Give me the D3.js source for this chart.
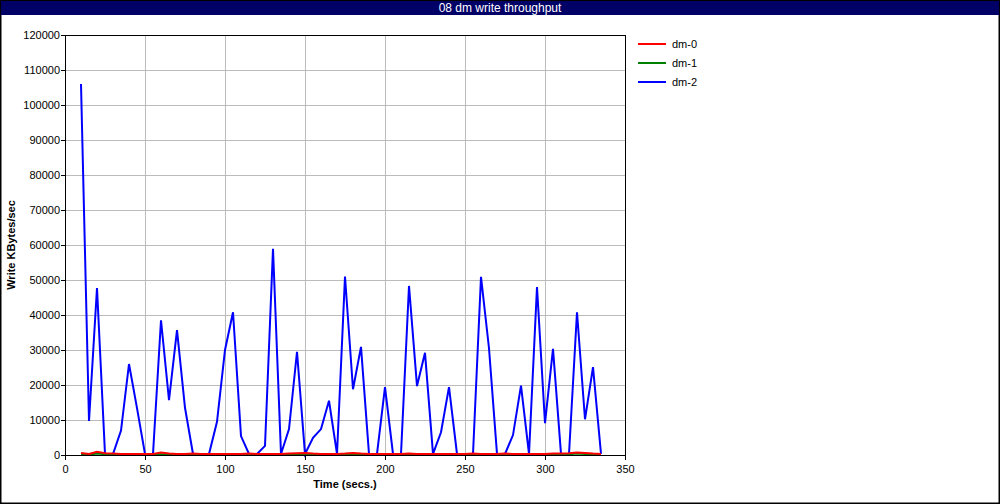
<!DOCTYPE html>
<html><head><meta charset="utf-8">
<script src="https://cdn.jsdelivr.net/npm/d3@7"></script>
<style>
html,body{margin:0;padding:0;background:#fff;}
svg{display:block;font-family:"Liberation Sans",Arial,sans-serif;}
</style></head>
<body>
<svg id="chart" width="1000" height="504"></svg>
<script>
const title = "08 dm write throughput";
const seriesNames = ["dm-0", "dm-1", "dm-2"];
const seriesColors = ["#ff0000", "#008000", "#0000ff"];
const times = [10,15,20,25,30,35,40,45,50,55,60,65,70,75,80,85,90,95,100,105,110,115,120,125,130,135,140,145,150,155,160,165,170,175,180,185,190,195,200,205,210,215,220,225,230,235,240,245,250,255,260,265,270,275,280,285,290,295,300,305,310,315,320,325,330,335];
const dm2 = [106000,9700,47700,300,300,7000,26000,13400,300,300,38500,15700,35700,13500,300,300,300,9500,30000,40800,5400,300,300,2600,58900,300,7400,29500,300,4900,7400,15500,300,51000,18800,30900,300,300,19400,300,300,48300,19700,29200,300,6500,19400,300,300,300,50900,30500,300,300,5700,19800,300,48000,9100,30300,300,300,40800,10200,25100,300];
const dm1 = [100,50,400,200,100,50,50,50,50,100,200,100,50,50,50,50,50,50,50,50,50,100,50,50,50,50,50,100,200,100,50,50,50,50,150,100,50,50,50,50,50,100,50,50,50,50,50,50,100,100,50,50,50,50,50,50,50,50,50,50,100,200,400,300,200,100];
const dm0 = [600,300,900,500,400,300,300,300,300,300,700,400,300,300,400,300,300,300,300,300,300,400,300,300,300,300,400,500,600,400,300,300,300,400,600,400,300,300,300,300,300,400,300,300,300,300,300,300,300,400,300,300,300,400,300,300,300,300,300,400,400,500,700,600,400,300];
const seriesValues = [dm0, dm1, dm2];
const xTicks = [0,50,100,150,200,250,300,350];
const yTicks = d3.range(0, 120001, 10000);

const svg = d3.select("#chart");
const W = 1000, H = 504;
const m = {left:65, right:375, top:35, bottom:49};
const x = d3.scaleLinear().domain([0,350]).range([m.left, W - m.right]);
const y = d3.scaleLinear().domain([0,120000]).range([H - m.bottom, m.top]);

// background + outer border
svg.append("rect").attr("x",0.5).attr("y",0.5).attr("width",W-1).attr("height",H-1)
  .attr("fill","#fff").attr("stroke","#000").attr("stroke-width",2);
// title bar
svg.append("rect").attr("x",1).attr("y",1).attr("width",W-2).attr("height",14).attr("fill","#000066");
svg.append("text").attr("x",W/2).attr("y",12).attr("text-anchor","middle")
  .attr("fill","#fff").attr("font-size",12).text(title);

// grid
const g = svg.append("g");
g.selectAll(".vg").data(xTicks.slice(1,-1)).enter().append("line")
  .attr("x1",d=>x(d)).attr("x2",d=>x(d)).attr("y1",y(0)).attr("y2",y(120000))
  .attr("stroke","#bbbbbb").attr("stroke-width",1).attr("shape-rendering","crispEdges");
g.selectAll(".hg").data(yTicks.slice(1,-1)).enter().append("line")
  .attr("x1",x(0)).attr("x2",x(350)).attr("y1",d=>y(d)).attr("y2",d=>y(d))
  .attr("stroke","#bbbbbb").attr("stroke-width",1).attr("shape-rendering","crispEdges");

// lines (dm-2 first so red sits on top)
const line = d3.line().x((d,i)=>x(times[i])).y(d=>y(d));
[2,1,0].forEach(k=>{
  svg.append("path").datum(seriesValues[k]).attr("d",line)
    .attr("fill","none").attr("stroke",seriesColors[k]).attr("stroke-width",2)
    .attr("stroke-linejoin","miter");
});

// frame
svg.append("rect").attr("x",x(0)).attr("y",y(120000)).attr("width",x(350)-x(0)).attr("height",y(0)-y(120000))
  .attr("fill","none").attr("stroke","#000").attr("stroke-width",1).attr("shape-rendering","crispEdges");

// axes
const xAxis = svg.append("g").attr("transform",`translate(0,${y(0)})`)
  .call(d3.axisBottom(x).tickValues(xTicks).tickSize(5).tickSizeOuter(0).tickFormat(d3.format("d")));
const yAxis = svg.append("g").attr("transform",`translate(${x(0)},0)`)
  .call(d3.axisLeft(y).tickValues(yTicks).tickSize(4).tickSizeOuter(0).tickFormat(d3.format("d")));
[xAxis,yAxis].forEach(a=>{
  a.select(".domain").attr("stroke","#000").attr("shape-rendering","crispEdges");
  a.selectAll(".tick line").attr("stroke","#000").attr("shape-rendering","crispEdges");
  a.selectAll("text").attr("fill","#000").attr("font-size",11)
    .attr("font-family","Liberation Sans, Arial, sans-serif");
});
xAxis.selectAll("text").attr("dy","0.9em");
yAxis.selectAll("text").attr("x",-5);

// axis titles
svg.append("text").attr("x",(x(0)+x(350))/2).attr("y",488).attr("text-anchor","middle")
  .attr("font-size",11).attr("font-weight","bold").text("Time (secs.)");
svg.append("text").attr("transform",`translate(15,${(y(0)+y(120000))/2}) rotate(-90)`)
  .attr("text-anchor","middle").attr("font-size",11).attr("font-weight","bold").text("Write KBytes/sec");

// legend
const lg = svg.append("g");
seriesNames.forEach((n,i)=>{
  const yy = 44 + i*19;
  lg.append("line").attr("x1",638).attr("x2",666).attr("y1",yy).attr("y2",yy)
    .attr("stroke",seriesColors[i]).attr("stroke-width",2);
  lg.append("text").attr("x",672).attr("y",yy+4).attr("font-size",11).text(n);
});
</script>
</body></html>
